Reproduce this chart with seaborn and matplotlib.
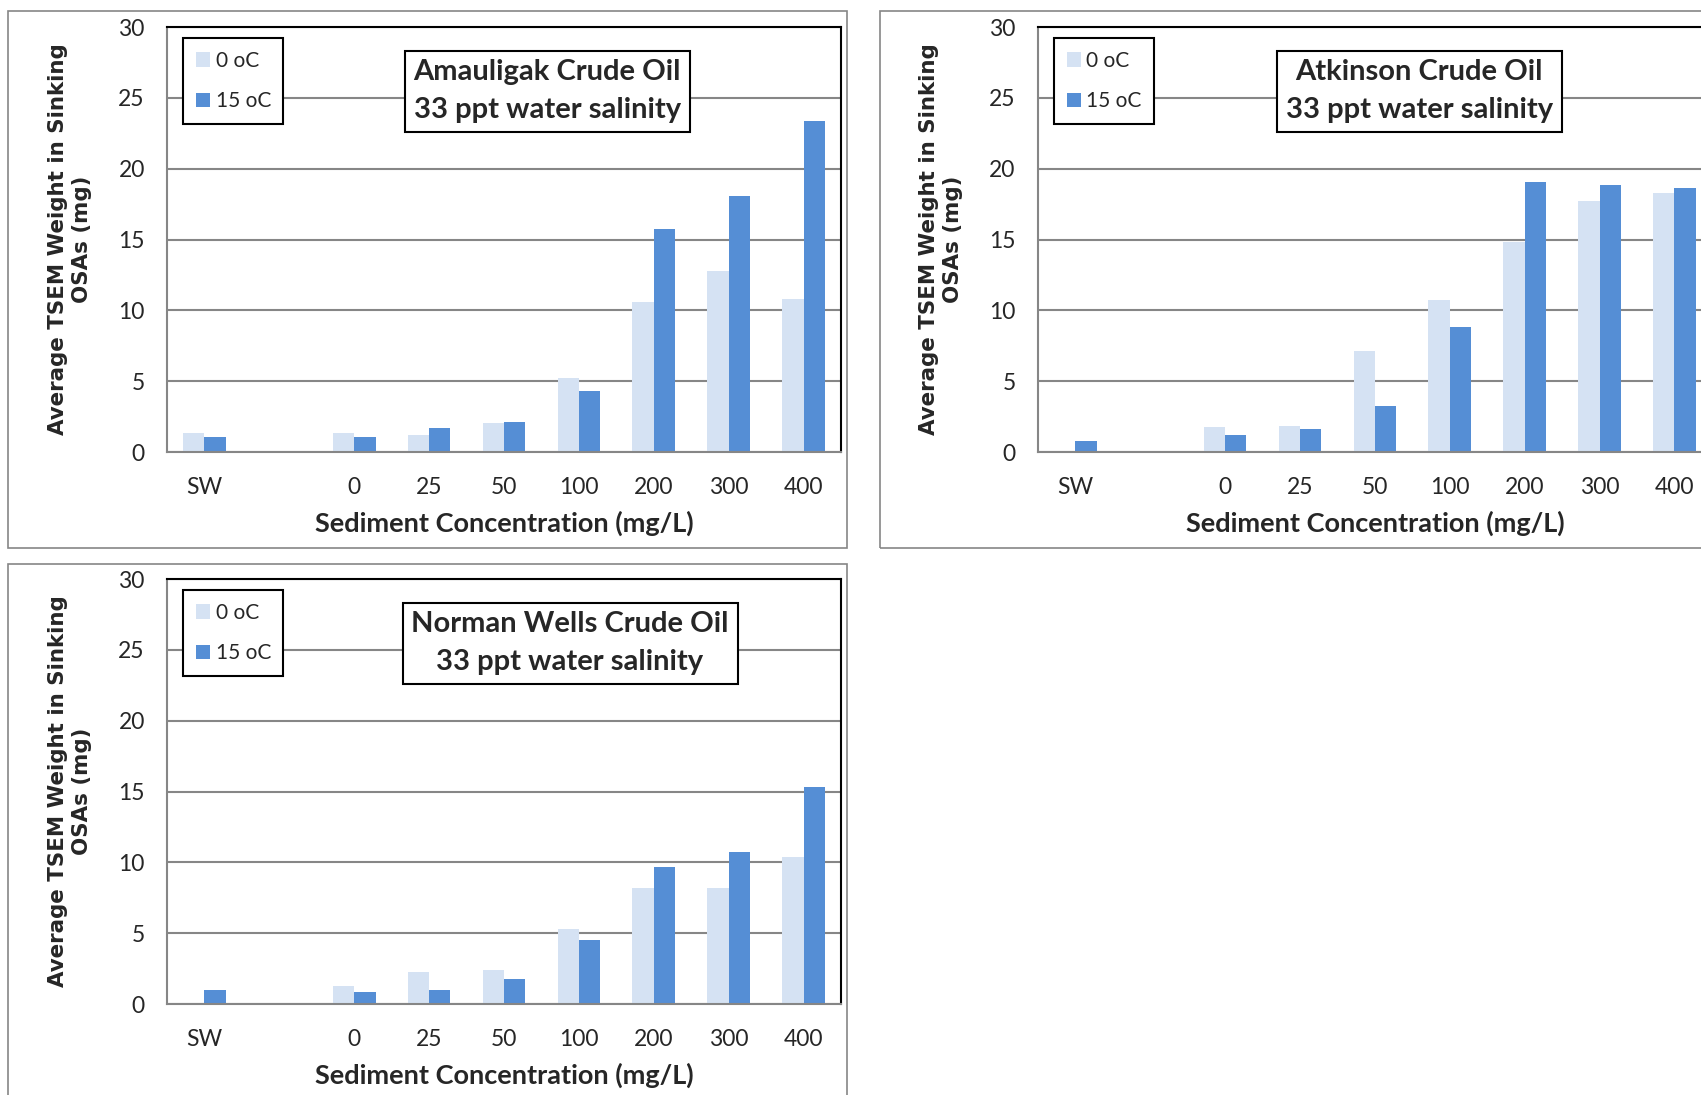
import numpy as np
import pandas as pd
import matplotlib
matplotlib.use('Agg')
import matplotlib.pyplot as plt
import seaborn as sns
from matplotlib.patches import Rectangle

# Datos (mg)
categorias = ['SW', ' ', '0', '25', '50', '100', '200', '300', '400']
conc = ['SW', '0', '25', '50', '100', '200', '300', '400']
temps = ['0 oC', '15 oC']

amauligak_0 = [1.31, 1.36, 1.21, 2.04, 5.21, 10.60, 12.81, 10.82]
amauligak_15 = [1.06, 1.06, 1.71, 2.14, 4.28, 15.73, 18.10, 23.36]

atkinson_0 = [None, 1.76, 1.81, 7.15, 10.75, 14.82, 17.72, 18.25]
atkinson_15 = [0.78, 1.23, 1.61, 3.25, 8.83, 19.05, 18.88, 18.65]

norman_0 = [None, 1.27, 2.29, 2.37, 5.27, 8.22, 8.20, 10.37]
norman_15 = [1.02, 0.88, 0.98, 1.80, 4.51, 9.66, 10.73, 15.29]

titulos = ['Amauligak Crude Oil\n33 ppt water salinity',
           'Atkinson Crude Oil\n33 ppt water salinity',
           'Norman Wells Crude Oil\n33 ppt water salinity']

claro = '#D5E2F3'
oscuro = '#558ED5'
gris = '#868686'


def tabla(v0, v15):
    filas = []
    for c, a, b in zip(conc, v0, v15):
        if a is not None:
            filas.append({'conc': c, 'temp': temps[0], 'peso': a})
        if b is not None:
            filas.append({'conc': c, 'temp': temps[1], 'peso': b})
    return pd.DataFrame(filas)


sns.set_style('white')
plt.rcParams['font.family'] = ['Lato', 'DejaVu Sans']

fig = plt.figure(figsize=(17.01, 10.95), dpi=100)

# marcos de cada grafico
for (x0, y0, w, h) in [(0.0047, 0.4995, 0.4932, 0.4904),
                       (0.5173, 0.4995, 0.6, 0.4904),
                       (0.0047, -0.1, 0.4932, 0.5849)]:
    fig.patches.append(Rectangle((x0, y0), w, h, transform=fig.transFigure,
                                 fill=False, edgecolor=gris, linewidth=1.2))

posiciones = [[0.0982, 0.5872, 0.3962, 0.3881],
              [0.6102, 0.5872, 0.3962, 0.3881],
              [0.0982, 0.0831, 0.3962, 0.3881]]
datos = [(amauligak_0, amauligak_15), (atkinson_0, atkinson_15), (norman_0, norman_15)]
caja_x = [0.564, 0.566, 0.598]

for pos, (v0, v15), titulo, cx in zip(posiciones, datos, titulos, caja_x):
    ax = fig.add_axes(pos)
    df = tabla(v0, v15)
    sns.barplot(data=df, x='conc', y='peso', hue='temp', order=categorias,
                hue_order=temps, palette=[claro, oscuro], width=0.57,
                saturation=1, errorbar=None, linewidth=0, ax=ax)
    ax.set_ylim(0, 30)
    ax.set_xlim(-0.5, 8.5)
    ax.set_yticks(range(0, 31, 5))
    ax.yaxis.grid(True, color=gris, linewidth=1.5)
    ax.set_axisbelow(True)
    for s in ['left', 'bottom']:
        ax.spines[s].set_color(gris)
        ax.spines[s].set_linewidth(1.5)
    for s in ['top', 'right']:
        ax.spines[s].set_color('black')
        ax.spines[s].set_linewidth(1.5)
    ax.set_xticks(np.arange(-0.5, 9, 1), minor=True)
    ax.tick_params(axis='x', which='major', length=0, pad=18, labelsize=16.5)
    ax.tick_params(axis='x', which='minor', length=6, width=1.5, color=gris)
    ax.tick_params(axis='y', length=6, width=1.5, color=gris, pad=10, labelsize=16.5)

    ax.set_xlabel('Sediment Concentration (mg/L)', fontsize=19.5, fontweight='bold')
    ax.xaxis.set_label_coords(0.5, -0.167)
    ax.xaxis.label.set_verticalalignment('center')
    ax.set_ylabel('Average TSEM Weight in Sinking\nOSAs (mg)', fontsize=15.4,
                  fontweight='bold', family='DejaVu Sans', linespacing=1.2)
    ax.yaxis.set_label_coords(-0.144, 0.5)
    ax.yaxis.label.set_verticalalignment('center')

    ax.legend(loc='upper left', bbox_to_anchor=(0.024, 0.974), borderaxespad=0,
              fontsize=15, fancybox=False, edgecolor='black', framealpha=1,
              handlelength=0.7, handleheight=0.7, handletextpad=0.25,
              labelspacing=1.0, borderpad=0.6).get_frame().set_linewidth(1.5)

    ax.text(cx, 0.849, titulo, transform=ax.transAxes, ha='center', va='center',
            fontsize=21, fontweight='bold', linespacing=1.55,
            bbox=dict(boxstyle='square,pad=0.3', facecolor='white',
                      edgecolor='black', linewidth=1.5))

fig.savefig('out.png', dpi=100)
